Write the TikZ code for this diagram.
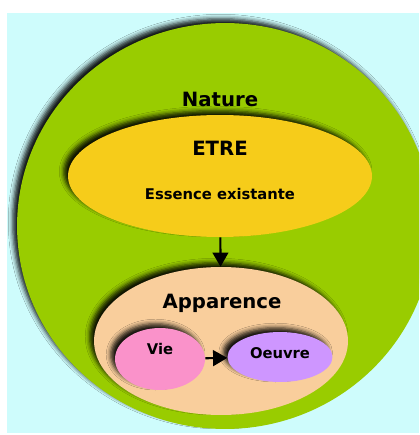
\documentclass[tikz,border=0pt]{standalone}
\usepackage{fontspec}
\setsansfont{DejaVu Sans}
\usetikzlibrary{arrows, shapes.geometric, shadows.blur}
\definecolor{bgcyan}{RGB}{206,252,252}
\definecolor{natgreen}{RGB}{153,204,0}
\definecolor{etreyellow}{RGB}{246,204,26}
\definecolor{apppeach}{RGB}{249,206,156}
\definecolor{viepink}{RGB}{250,146,202}
\definecolor{oeuvrepurple}{RGB}{206,150,255}
\tikzset{
	blob/.style={ellipse, inner sep=0pt, blur shadow={shadow xshift=-2.5pt, shadow yshift=2.5pt, shadow blur radius=2.5pt, shadow opacity=90}},
	bigtxt/.style={font=\sffamily\bfseries\fontsize{11.2}{13}\selectfont},
	smalltxt/.style={font=\sffamily\bfseries\fontsize{8.4}{10}\selectfont}
}

\begin{document}
\begin{tikzpicture}[x=0.02cm, y=-0.02cm]
	\useasboundingbox (0,0) rectangle (419,435);
	\fill [bgcyan] (7,13) rectangle (419,433);
	\begin{scope}
		\clip (7,13) rectangle (419,433);
		\node [blob, fill=natgreen, minimum width=8.32cm, minimum height=8.12cm] (nature) at (225,226) {};
	\end{scope}
	\node [blob, fill=etreyellow, minimum width=6.08cm, minimum height=2.44cm] (etre) at (220,176) {};
	\node [blob, fill=apppeach, minimum width=5.08cm, minimum height=2.96cm] (apparence) at (221,341) {};
	\node [blob, fill=viepink, minimum width=1.8cm, minimum height=1.24cm] (vie) at (160,359) {};
	\node [blob, fill=oeuvrepurple, minimum width=2.1cm, minimum height=1.0cm] (oeuvre) at (280,357) {};
	\node [bigtxt] (naturetxt) at (220,99) {Nature};
	\node [bigtxt] (etretxt) at (220,148) {ETRE};
	\node [smalltxt] (essencetxt) at (220,194) {Essence existante};
	\node [bigtxt] (apparencetxt) at (222,303) {Apparence};
	\node [smalltxt] (vietxt) at (160,349) {Vie};
	\node [smalltxt] (oeuvretxt) at (280,353) {Oeuvre};
	\draw [-triangle 60, line width=1.2pt] (etre) -- (apparence);
	\draw [-triangle 60, line width=1.2pt] (vie) -- (oeuvre);
\end{tikzpicture}
\end{document}
